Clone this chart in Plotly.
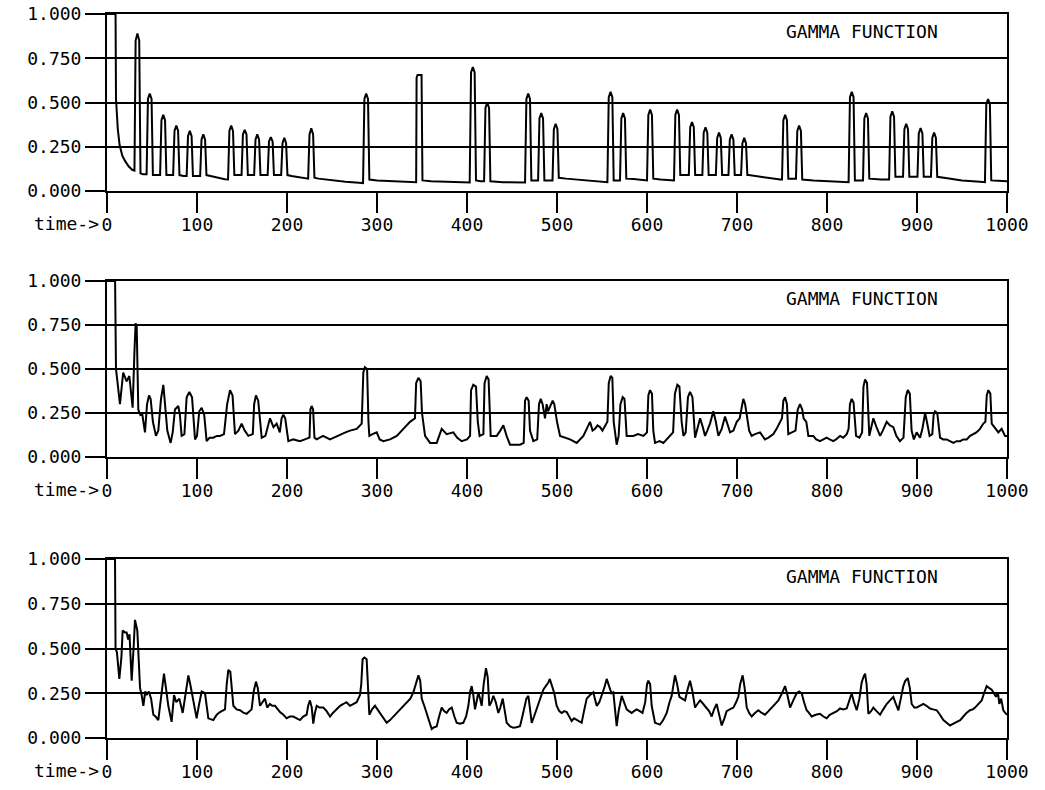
import plotly.graph_objects as go

# ---------------- data (time, gamma) ----------------
PANEL1 = [
    (0, 1.0), (9.5, 1.0), (10, 0.52), (12, 0.35), (14, 0.26), (17, 0.20), (20, 0.17), (24, 0.14), (28, 0.12),
    (30.5, 0.115), (31.8, 0.85), (33.8, 0.89), (35.8, 0.85), (37.2, 0.10), (40, 0.095),
    (44, 0.095), (45.5, 0.52), (47.5, 0.55), (49.5, 0.52), (51, 0.09), (55, 0.09),
    (59, 0.09), (60.5, 0.40), (62.5, 0.43), (64.5, 0.40), (66, 0.09), (70, 0.09),
    (73.5, 0.09), (75, 0.34), (77, 0.37), (79, 0.34), (80.5, 0.09), (85, 0.085),
    (88.5, 0.085), (90, 0.31), (92, 0.34), (94, 0.31), (95.5, 0.085), (100, 0.085),
    (103.5, 0.085), (105, 0.29), (107, 0.32), (109, 0.29), (110.5, 0.09),
    (115, 0.085), (120, 0.078), (125, 0.072), (131, 0.066),
    (134.5, 0.065), (136, 0.34), (138, 0.37), (140, 0.34), (141.5, 0.09), (146, 0.09),
    (149.5, 0.09), (151, 0.32), (153, 0.345), (155, 0.32), (156.5, 0.09), (160, 0.09),
    (163.5, 0.09), (165, 0.29), (167, 0.32), (169, 0.29), (170.5, 0.09), (175, 0.09),
    (178.5, 0.09), (180, 0.28), (182, 0.305), (184, 0.28), (185.5, 0.09), (190, 0.09),
    (193.5, 0.09), (195, 0.27), (197, 0.30), (199, 0.27), (200.5, 0.09),
    (205, 0.085), (212, 0.078), (220, 0.072),
    (223.5, 0.07), (225, 0.32), (227, 0.355), (229, 0.32), (230.5, 0.075),
    (235, 0.07), (250, 0.06), (265, 0.052), (280, 0.047),
    (284.5, 0.045), (286, 0.52), (288, 0.55), (290, 0.52), (291.5, 0.065),
    (300, 0.06), (320, 0.055), (340, 0.05),
    (343.5, 0.05), (344, 0.64), (345, 0.655), (349.5, 0.655), (350.5, 0.06),
    (360, 0.055), (380, 0.05), (400, 0.048),
    (403, 0.048), (404.5, 0.67), (406.5, 0.70), (408.5, 0.67), (410, 0.06), (415, 0.055),
    (419, 0.055), (420.5, 0.47), (422.5, 0.50), (424.5, 0.47), (426, 0.055),
    (440, 0.05), (460, 0.048),
    (464.5, 0.048), (466, 0.52), (468, 0.55), (470, 0.52), (471.5, 0.06), (475, 0.06),
    (479, 0.06), (480.5, 0.41), (482.5, 0.44), (484.5, 0.41), (486, 0.06), (490, 0.06),
    (495, 0.06), (496.5, 0.35), (498.5, 0.38), (500.5, 0.35), (502, 0.075),
    (510, 0.07), (530, 0.06), (550, 0.053),
    (556, 0.05), (557.5, 0.53), (559.5, 0.56), (561.5, 0.53), (563, 0.06), (567, 0.06),
    (570, 0.06), (571.5, 0.41), (573.5, 0.44), (575.5, 0.41), (577, 0.07),
    (585, 0.068), (595, 0.063),
    (600, 0.06), (601.5, 0.43), (603.5, 0.46), (605.5, 0.43), (607, 0.07),
    (615, 0.065), (625, 0.06),
    (630, 0.06), (631.5, 0.43), (633.5, 0.46), (635.5, 0.43), (637, 0.09), (642, 0.09),
    (646.5, 0.09), (648, 0.36), (650, 0.39), (652, 0.36), (653.5, 0.09), (658, 0.09),
    (661.5, 0.09), (663, 0.33), (665, 0.36), (667, 0.33), (668.5, 0.09), (673, 0.09),
    (676.5, 0.09), (678, 0.30), (680, 0.33), (682, 0.30), (683.5, 0.09), (687, 0.09),
    (690.5, 0.09), (692, 0.29), (694, 0.32), (696, 0.29), (697.5, 0.09), (701, 0.09),
    (704.5, 0.09), (706, 0.27), (708, 0.30), (710, 0.27), (711.5, 0.09),
    (713, 0.09), (725, 0.08), (740, 0.07), (748, 0.065),
    (750, 0.065), (751.5, 0.40), (753.5, 0.43), (755.5, 0.40), (757, 0.07), (762, 0.07),
    (765.5, 0.07), (767, 0.34), (769, 0.37), (771, 0.34), (772.5, 0.065),
    (785, 0.06), (805, 0.055), (820, 0.05),
    (824, 0.05), (825.5, 0.53), (827.5, 0.56), (829.5, 0.53), (831, 0.06), (836, 0.06),
    (840, 0.06), (841.5, 0.41), (843.5, 0.44), (845.5, 0.41), (847, 0.07), (860, 0.065),
    (869, 0.065), (870.5, 0.42), (872.5, 0.45), (874.5, 0.42), (876, 0.08), (881, 0.08),
    (884.5, 0.08), (886, 0.35), (888, 0.38), (890, 0.35), (891.5, 0.08), (897, 0.08),
    (900.5, 0.08), (902, 0.325), (904, 0.355), (906, 0.325), (907.5, 0.08), (912, 0.08),
    (915.5, 0.08), (917, 0.30), (919, 0.33), (921, 0.30), (922.5, 0.08),
    (930, 0.075), (950, 0.06), (970, 0.052),
    (975.5, 0.05), (977, 0.49), (979, 0.52), (981, 0.49), (982.5, 0.06),
    (990, 0.058), (1000, 0.055),
]

PANEL2 = [
    (0, 1.0), (9, 1.0), (10, 0.50), (14.4, 0.30), (18, 0.48), (21.8, 0.43), (24.8, 0.46), (28.5, 0.28),
    (30.5, 0.60), (31.8, 0.76), (33, 0.74), (34.8, 0.27), (37, 0.24), (39, 0.25), (42.2, 0.14),
    (44.5, 0.30), (46.7, 0.35), (48.5, 0.33), (51, 0.20), (54.4, 0.12), (57, 0.15), (60, 0.33),
    (62.6, 0.41), (64.5, 0.30), (67, 0.15), (70.7, 0.08), (73, 0.14), (75.5, 0.27), (79.2, 0.29),
    (81, 0.24), (82.9, 0.12), (86, 0.13), (88.5, 0.34), (91.5, 0.37), (94.5, 0.34), (97.8, 0.10),
    (100, 0.12), (102.5, 0.26), (105.2, 0.28), (108, 0.24), (110.7, 0.09), (114, 0.11),
    (118.1, 0.11), (122, 0.12), (125.5, 0.12), (130, 0.13), (133.5, 0.30), (136.7, 0.38),
    (139.5, 0.35), (142.2, 0.13), (146, 0.15), (149.6, 0.19), (153, 0.15), (157, 0.12),
    (162, 0.13), (163.5, 0.30), (165.5, 0.35), (168, 0.32), (171.9, 0.11), (176, 0.12),
    (181.1, 0.22), (185, 0.17), (188.5, 0.19), (192, 0.14), (194, 0.22), (195.9, 0.24),
    (198, 0.22), (201.5, 0.09), (207, 0.10), (214.4, 0.09), (220, 0.10), (225, 0.11),
    (226, 0.27), (227.4, 0.29), (229, 0.27), (230.5, 0.11), (233, 0.10), (240, 0.12),
    (247.8, 0.10), (252, 0.11), (259, 0.13), (265, 0.14), (270, 0.15), (277.4, 0.16),
    (283, 0.19), (284.8, 0.48), (286.5, 0.51), (289, 0.50), (290.5, 0.20), (291.5, 0.12),
    (295, 0.13), (299.7, 0.14), (303, 0.10), (307, 0.09), (314.5, 0.10), (322, 0.12),
    (329.3, 0.16), (336.7, 0.20), (342.2, 0.22), (343.5, 0.42), (346, 0.45), (348.5, 0.43),
    (350, 0.25), (353.4, 0.12), (359, 0.08), (366.3, 0.08), (371.9, 0.16), (377.4, 0.13),
    (384.8, 0.14), (389, 0.11), (394, 0.09), (400, 0.10), (403.4, 0.12), (404.5, 0.38),
    (407, 0.41), (410, 0.40), (412, 0.20), (414, 0.12), (418.2, 0.13), (419.5, 0.42),
    (421.9, 0.46), (424, 0.44), (426.3, 0.12), (433, 0.12), (437, 0.15), (440.4, 0.18),
    (444, 0.12), (447.8, 0.07), (453, 0.07), (458.9, 0.07), (463, 0.08), (464.5, 0.32),
    (466.3, 0.34), (468.5, 0.32), (470, 0.15), (473.7, 0.09), (478, 0.10), (480, 0.30),
    (481.9, 0.33), (484, 0.30), (486.7, 0.22), (488.5, 0.30), (490, 0.26), (492, 0.28),
    (495.2, 0.32), (497, 0.30), (500, 0.20), (503.4, 0.12), (509, 0.11), (514.5, 0.10),
    (521.9, 0.08), (526, 0.10), (529.3, 0.12), (533, 0.16), (536.7, 0.20), (539.5, 0.15),
    (542.2, 0.16), (545, 0.18), (547.8, 0.17), (550.5, 0.15), (553.3, 0.18), (556, 0.20),
    (557.5, 0.42), (559.6, 0.46), (561.5, 0.45), (563, 0.20), (566.3, 0.07), (568.5, 0.12),
    (570.5, 0.30), (573, 0.34), (575, 0.33), (577.4, 0.12), (584.8, 0.12), (590, 0.13),
    (596, 0.12), (600, 0.14), (601.5, 0.35), (603.3, 0.38), (605.5, 0.36), (607, 0.15),
    (608.9, 0.08), (614, 0.09), (618.2, 0.08), (622, 0.10), (625.6, 0.12), (629, 0.14),
    (631, 0.36), (633.7, 0.41), (636, 0.40), (638.5, 0.20), (640.5, 0.12), (643, 0.14),
    (645.5, 0.34), (647.8, 0.37), (650.5, 0.34), (653.4, 0.11), (656, 0.16), (659, 0.22),
    (662, 0.17), (664.5, 0.12), (667, 0.15), (670, 0.19), (673.7, 0.26), (676.5, 0.20),
    (679.3, 0.12), (683, 0.16), (686.7, 0.23), (689.5, 0.19), (692.3, 0.14), (696, 0.15),
    (699.7, 0.20), (703, 0.22), (705.5, 0.30), (707, 0.33), (709, 0.30), (711.5, 0.22),
    (713.5, 0.15), (716.3, 0.12), (720, 0.13), (725.6, 0.14), (731, 0.10), (735, 0.11),
    (740.4, 0.13), (744, 0.16), (747.8, 0.20), (750, 0.22), (751.5, 0.32), (753.4, 0.34),
    (755.5, 0.30), (757, 0.13), (761, 0.14), (765, 0.15), (767.5, 0.27), (770, 0.30),
    (772.5, 0.27), (774, 0.22), (777, 0.20), (779.3, 0.12), (784.8, 0.12), (788, 0.10),
    (792.2, 0.09), (796, 0.10), (799.6, 0.11), (803, 0.10), (807, 0.09), (810, 0.10),
    (814.5, 0.12), (818, 0.11), (821.9, 0.13), (824, 0.16), (825.5, 0.30), (827.4, 0.33),
    (829.5, 0.31), (832.3, 0.12), (836, 0.11), (839, 0.14), (840.5, 0.40), (842.3, 0.44),
    (844.5, 0.42), (847, 0.12), (849, 0.16), (851.5, 0.22), (855, 0.17), (859, 0.12),
    (862, 0.15), (866.3, 0.20), (870, 0.18), (873.7, 0.17), (877, 0.12), (881, 0.09),
    (885, 0.11), (887.5, 0.34), (889.7, 0.38), (892, 0.36), (894, 0.15), (896.5, 0.10),
    (899.6, 0.14), (903.4, 0.11), (906, 0.16), (909, 0.25), (911, 0.20), (914, 0.12),
    (917, 0.13), (918.5, 0.24), (920, 0.26), (922.5, 0.25), (925.6, 0.11), (929, 0.10),
    (933, 0.10), (936.7, 0.09), (940.4, 0.08), (944, 0.09), (947.8, 0.09), (951.5, 0.10),
    (955.2, 0.10), (959, 0.12), (962.6, 0.13), (966, 0.14), (970, 0.16), (973.7, 0.19),
    (976, 0.20), (977.5, 0.35), (979.3, 0.38), (981.5, 0.36), (983, 0.19), (986, 0.17),
    (990.4, 0.14), (994, 0.16), (997.8, 0.12), (1000, 0.12),
]

PANEL3 = [
    (0, 1.0), (8.9, 1.0), (9.5, 0.50), (11, 0.48), (13.7, 0.33), (16, 0.45), (17.4, 0.60), (20, 0.59),
    (21.8, 0.59), (23.5, 0.55), (25, 0.58), (27.4, 0.32), (29.5, 0.50), (31.1, 0.66), (33.7, 0.60),
    (36.7, 0.28), (38.5, 0.24), (40.4, 0.18), (42.5, 0.26), (44.1, 0.24), (46.5, 0.26), (49, 0.22),
    (51.5, 0.13), (54, 0.12), (57, 0.10), (60, 0.24), (63.3, 0.36), (65.5, 0.28), (68.1, 0.18),
    (71.8, 0.09), (74.5, 0.24), (77, 0.20), (80.4, 0.22), (84.1, 0.14), (87, 0.25), (90.4, 0.35),
    (92.5, 0.30), (95.2, 0.22), (99.6, 0.11), (102, 0.18), (105.2, 0.26), (108.9, 0.25),
    (112.6, 0.11), (118.1, 0.10), (122, 0.13), (125.5, 0.145), (131.1, 0.16), (133, 0.30),
    (134.8, 0.38), (137, 0.37), (139, 0.25), (140.4, 0.18), (144, 0.16), (147.8, 0.155),
    (152, 0.14), (155.2, 0.135), (160.7, 0.16), (163, 0.26), (165.5, 0.315), (167.5, 0.28),
    (170, 0.18), (172.5, 0.20), (175.5, 0.22), (178, 0.17), (181, 0.19), (183.5, 0.18),
    (186.7, 0.18), (192.2, 0.145), (196, 0.13), (199.6, 0.11), (203, 0.12), (207, 0.12),
    (210, 0.11), (214.4, 0.10), (218, 0.12), (221.8, 0.13), (223.5, 0.18), (225.5, 0.21),
    (227.5, 0.17), (229.2, 0.08), (231, 0.14), (233, 0.18), (236, 0.17), (240.4, 0.17),
    (244, 0.15), (247.8, 0.12), (251, 0.14), (255.2, 0.16), (259, 0.18), (262.6, 0.19),
    (266, 0.20), (270, 0.18), (274, 0.19), (277.4, 0.20), (281.1, 0.24), (282.5, 0.30),
    (284, 0.44), (286, 0.45), (288.5, 0.44), (289.5, 0.35), (291.5, 0.13), (294.5, 0.16),
    (297.8, 0.18), (300.5, 0.16), (303.4, 0.14), (307, 0.11), (310.8, 0.085), (314.5, 0.10),
    (318.2, 0.12), (322, 0.14), (325.6, 0.16), (329, 0.18), (333, 0.20), (337, 0.22),
    (340.4, 0.255), (343, 0.30), (346, 0.35), (348, 0.32), (349.7, 0.22), (352.5, 0.18),
    (355.2, 0.14), (358, 0.09), (360.8, 0.05), (363.5, 0.06), (366.3, 0.065), (369, 0.12),
    (371.9, 0.17), (374.5, 0.15), (377.4, 0.14), (380, 0.16), (383, 0.17), (386, 0.12),
    (388.5, 0.085), (392, 0.08), (395.9, 0.085), (399, 0.12), (401.5, 0.18), (403.5, 0.26),
    (405.2, 0.29), (407, 0.24), (408.9, 0.16), (410.5, 0.20), (412.6, 0.255), (414.5, 0.22),
    (416.3, 0.18), (418.5, 0.30), (421.1, 0.39), (423, 0.34), (424.8, 0.18), (427, 0.20),
    (429.3, 0.235), (432, 0.20), (434.8, 0.14), (437, 0.17), (439.7, 0.22), (442, 0.15),
    (444.1, 0.085), (448, 0.065), (451.5, 0.057), (455, 0.06), (458.9, 0.066), (461.5, 0.12),
    (464.4, 0.18), (466, 0.22), (468.2, 0.235), (470, 0.16), (471.9, 0.085), (474.5, 0.12),
    (477.4, 0.16), (481, 0.22), (484.8, 0.27), (487.5, 0.29), (490.4, 0.31), (492, 0.33),
    (494.1, 0.30), (497, 0.25), (499.6, 0.18), (502.5, 0.15), (505.2, 0.14), (508, 0.15),
    (510.8, 0.145), (513.5, 0.12), (516.3, 0.095), (519, 0.11), (521.9, 0.10), (524.5, 0.09),
    (527.4, 0.085), (530, 0.15), (533, 0.22), (536.7, 0.24), (540.4, 0.255), (542, 0.22),
    (544.1, 0.18), (547, 0.20), (549.6, 0.235), (552.5, 0.28), (555.2, 0.33), (557, 0.30),
    (558.9, 0.27), (560.5, 0.25), (562.6, 0.255), (564.5, 0.15), (566.3, 0.066), (568.5, 0.15),
    (571.9, 0.235), (574.5, 0.20), (577.4, 0.16), (580, 0.15), (583, 0.14), (585.5, 0.15),
    (588.5, 0.16), (592, 0.15), (595, 0.14), (598, 0.20), (600, 0.30), (601.5, 0.32),
    (603.5, 0.30), (605.2, 0.18), (608.9, 0.085), (611.5, 0.08), (614.4, 0.075), (618, 0.10),
    (621.9, 0.14), (625, 0.20), (627.4, 0.235), (629.5, 0.30), (631.1, 0.35), (633.5, 0.30),
    (636, 0.23), (639, 0.22), (642.3, 0.21), (645, 0.27), (647.8, 0.32), (650.5, 0.26),
    (653.4, 0.17), (656, 0.19), (659, 0.21), (662.5, 0.19), (666.3, 0.17), (669, 0.15),
    (671.9, 0.12), (674.5, 0.16), (677.4, 0.19), (680, 0.13), (683, 0.07), (686, 0.11),
    (688.5, 0.15), (692, 0.16), (696, 0.17), (699, 0.20), (701.5, 0.23), (703.5, 0.30),
    (706.3, 0.35), (708.5, 0.28), (710.8, 0.17), (713.5, 0.14), (716.3, 0.12), (720, 0.14),
    (723.7, 0.155), (727.5, 0.14), (731.1, 0.13), (735, 0.15), (738.5, 0.17), (742, 0.19),
    (746, 0.21), (750, 0.25), (753.4, 0.29), (756, 0.24), (759, 0.17), (762.5, 0.21),
    (766.3, 0.25), (769, 0.26), (771.9, 0.25), (774.5, 0.20), (777.4, 0.155), (780, 0.14),
    (783, 0.12), (787.5, 0.13), (792.2, 0.135), (796, 0.12), (799.6, 0.11), (803, 0.13),
    (807, 0.14), (811, 0.15), (814.5, 0.165), (818, 0.16), (821.9, 0.165), (824.5, 0.20),
    (827.4, 0.25), (830, 0.20), (833, 0.155), (836, 0.22), (838.5, 0.31), (840.5, 0.34),
    (842.3, 0.36), (844, 0.30), (846, 0.135), (849, 0.15), (851.5, 0.17), (855, 0.15),
    (859, 0.13), (862.5, 0.16), (866.3, 0.19), (870, 0.21), (873.7, 0.23), (876.5, 0.19),
    (879.3, 0.155), (882, 0.22), (884.8, 0.29), (887, 0.32), (889.7, 0.335), (892, 0.28),
    (894.1, 0.19), (897, 0.17), (899.6, 0.17), (903, 0.18), (907.1, 0.19), (910.5, 0.18),
    (914.5, 0.165), (918, 0.16), (921.9, 0.155), (925.5, 0.13), (929.3, 0.10), (933, 0.085),
    (936.7, 0.07), (940.5, 0.08), (944.1, 0.09), (948, 0.10), (951.5, 0.12), (955, 0.14),
    (958.9, 0.155), (962, 0.16), (964.5, 0.17), (968, 0.19), (971.9, 0.21), (974.5, 0.25),
    (977.4, 0.29), (980, 0.28), (983, 0.27), (985.5, 0.25), (987.8, 0.23), (990, 0.25),
    (991.5, 0.19), (993.5, 0.22), (995.9, 0.155), (998, 0.14), (1000, 0.13),
]

X_TICKS = [0, 100, 200, 300, 400, 500, 600, 700, 800, 900, 1000]
X_TICK_TEXT = ["0", "100", "200", "300", "400", "500", "600", "700", "800", "900", "1000"]
Y_TICKS = [0.0, 0.25, 0.5, 0.75, 1.0]
Y_TICK_TEXT = ["0.000", "0.250", "0.500", "0.750", "1.000"]
TITLE_TEXT = "GAMMA FUNCTION"
TIME_LABEL = "time->"

# ---------------- figure ----------------
FONT = dict(family="DejaVu Sans Mono", size=18, color="black")
DOMAINS = [[0.7555, 1.0], [0.3881, 0.6312], [0.0, 0.2472]]
panels = [PANEL1, PANEL2, PANEL3]

fig = go.Figure()
layout = dict(
    width=1045, height=790,
    margin=dict(l=107, r=38, t=14, b=52, autoexpand=False),
    paper_bgcolor="white", plot_bgcolor="white",
    showlegend=False, font=FONT,
)
annotations = []
for i, (pts, dom) in enumerate(zip(panels, DOMAINS), start=1):
    sfx = "" if i == 1 else str(i)
    t = [p[0] for p in pts]
    g = [p[1] for p in pts]
    fig.add_trace(go.Scatter(x=t, y=g, mode="lines", xaxis="x" + sfx, yaxis="y" + sfx,
                             line=dict(color="black", width=2), hoverinfo="skip"))
    layout["xaxis" + sfx] = dict(
        domain=[0, 1], range=[0, 1000], anchor="y" + sfx, automargin=False,
        tickmode="array", tickvals=X_TICKS, ticktext=X_TICK_TEXT,
        ticks="outside", ticklen=20, tickwidth=2, tickcolor="black", ticklabelstandoff=-4,
        showline=True, linewidth=2, linecolor="black", mirror=True,
        showgrid=False, zeroline=False, tickfont=FONT,
    )
    layout["yaxis" + sfx] = dict(
        domain=dom, range=[0, 1], anchor="x" + sfx, automargin=False,
        tickmode="array", tickvals=Y_TICKS, ticktext=Y_TICK_TEXT,
        ticks="outside", ticklen=20, tickwidth=2, tickcolor="black",
        showline=True, linewidth=2, linecolor="black", mirror=True,
        showgrid=True, gridcolor="black", gridwidth=2, zeroline=False, tickfont=FONT,
    )
    annotations.append(dict(text=TITLE_TEXT, xref="x" + sfx, yref="y" + sfx, x=839, y=0.9,
                            xanchor="center", yanchor="middle", showarrow=False, font=FONT))
    annotations.append(dict(text=TIME_LABEL, xref=f"x{sfx} domain", yref=f"y{sfx} domain",
                            x=0, y=0, xshift=-6, yshift=-32, xanchor="right", yanchor="middle",
                            showarrow=False, font=FONT))
layout["annotations"] = annotations
fig.update_layout(**layout)
fig.write_html("out.html")
